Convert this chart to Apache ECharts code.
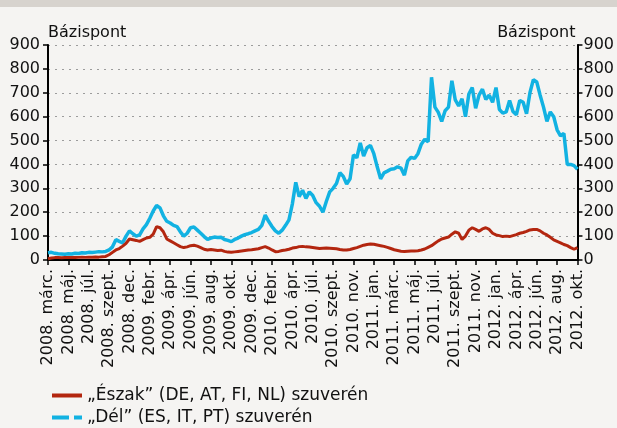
<!DOCTYPE html>
<html>
<head>
<meta charset="utf-8">
<script src="https://cdn.jsdelivr.net/npm/echarts@6/dist/echarts.min.js"></script>
<style>
html,body{margin:0;padding:0;background:#f5f4f2;}
#c{width:617px;height:428px;}
</style>
</head>
<body>
<div id="c"></div>
<script>
// Tick labels (every 6th data point)
var tickLabels = ['2008. márc.','2008. máj.','2008. júl.','2008. szept.','2008. dec.',
 '2009. febr.','2009. ápr.','2009. jún.','2009. aug.','2009. okt.','2009. dec.',
 '2010. febr.','2010. ápr.','2010. júl.','2010. szept.','2010. nov.',
 '2011. jan.','2011. márc.','2011. máj.','2011. júl.','2011. szept.','2011. nov.',
 '2012. jan.','2012. ápr.','2012. jún.','2012. aug.','2012. okt.'];
var pointsPerTick = 6;

// "Észak" (DE, AT, FI, NL) sovereign spread, basis points
var eszak = [
 5,8,10,10,9,10,
 10,11,10,11,12,11,
 12,12,13,12,14,15,
 22,32,42,48,58,70,
 88,85,82,78,85,92,
 95,108,140,135,118,88,
 80,72,64,56,52,55,
 60,62,58,52,45,42,
 44,42,40,41,36,33,
 32,34,36,38,40,42,
 43,45,47,52,56,50,
 42,35,36,40,42,45,
 50,52,56,57,55,54,
 52,50,48,49,50,49,
 48,47,44,42,42,44,
 48,52,57,62,65,67,
 66,63,60,57,53,48,
 43,40,37,36,37,38,
 38,39,42,46,53,60,
 70,80,88,92,96,108,
 118,112,86,100,125,135,
 128,120,130,135,128,112,
 105,102,98,100,98,102,
 106,112,115,120,126,128,
 128,122,112,105,95,84,
 78,72,65,60,52,45,
 52];

// "Dél" (ES, IT, PT) sovereign spread, basis points
var del = [
 30,32,28,26,25,24,
 26,25,28,27,30,29,
 32,31,33,35,34,36,
 42,55,85,78,72,100,
 122,110,100,105,130,148,
 175,205,228,218,185,162,
 155,145,140,118,100,112,
 135,138,125,112,98,86,
 92,96,94,95,86,82,
 77,86,92,100,106,110,
 115,122,128,145,188,162,
 140,122,112,125,145,168,
 235,325,265,292,258,285,
 270,240,225,200,245,285,
 300,320,365,350,318,340,
 440,428,490,435,470,480,
 445,390,340,365,372,380,
 382,390,385,355,415,430,
 425,445,485,505,495,765,
 640,618,580,625,640,750,
 670,645,675,600,695,722,
 635,690,715,672,690,660,
 722,630,615,620,668,622,
 608,668,660,612,700,755,
 745,690,640,580,620,600,
 545,520,530,400,400,395,
 380];

var categories = [];
for (var i = 0; i < del.length; i++) categories.push(String(i));

var FONT = 'DejaVu Sans';
var RED = '#b3260f', BLUE = '#12b2e2';
var chart = echarts.init(document.getElementById('c'), null, {renderer:'canvas'});
var axisBase = {
  type:'value', min:0, max:900, interval:100,
  axisLine:{show:true, lineStyle:{color:'#000', width:2}},
  axisTick:{show:true, length:5, lineStyle:{color:'#000', width:1.5}},
  nameGap:4
};
var nameRed = '„Észak” (DE, AT, FI, NL) szuverén';
var nameBlue = '„Dél” (ES, IT, PT) szuverén';
chart.setOption({
  backgroundColor:'#f5f4f2',
  animation:false,
  graphic:[{type:'rect', shape:{x:0,y:0,width:617,height:7}, style:{fill:'#d7d3ce'}, silent:true}],
  grid:{left:48, right:37, top:45, bottom:168, containLabel:false},
  legend:{
    orient:'vertical', left:52, top:387, padding:0, itemGap:5,
    itemWidth:30, itemHeight:16, symbolKeepAspect:true,
    textStyle:{fontFamily:FONT, fontSize:17, color:'#111', lineHeight:17},
    data:[
      {name:nameRed, icon:'path://M0 0H30V4H0Z', itemStyle:{color:RED}},
      {name:nameBlue, icon:'path://M0 0H17V4H0Z M22 0H30V4H22Z', itemStyle:{color:BLUE}}
    ]
  },
  xAxis:{
    type:'category', data:categories, boundaryGap:false,
    axisLine:{lineStyle:{color:'#000', width:2}},
    axisTick:{show:true, interval:pointsPerTick-1, length:5, lineStyle:{color:'#000', width:1.5}},
    axisLabel:{interval:pointsPerTick-1, rotate:90, margin:9,
      fontFamily:FONT, fontSize:16, color:'#111',
      formatter:function(v, idx){ return tickLabels[Math.round(idx/pointsPerTick)] || ''; }},
    splitLine:{show:false}
  },
  yAxis:[
    Object.assign({}, axisBase, {
      position:'left', name:'Bázispont',
      nameTextStyle:{fontFamily:FONT, fontSize:16, color:'#111', align:'left'},
      axisLabel:{fontFamily:FONT, fontSize:16, color:'#111', margin:8},
      splitLine:{show:true, lineStyle:{color:'#9c9c9c', width:1, type:[2,5]}}
    }),
    Object.assign({}, axisBase, {
      position:'right', name:'Bázispont',
      nameTextStyle:{fontFamily:FONT, fontSize:16, color:'#111', align:'right', padding:[0,2,0,0]},
      axisLabel:{fontFamily:FONT, fontSize:16, color:'#111', margin:6},
      splitLine:{show:false}
    })
  ],
  series:[
    {name:nameRed, type:'line', data:eszak, yAxisIndex:0,
     symbol:'none', lineStyle:{color:RED, width:3}, itemStyle:{color:RED}, z:3},
    {name:nameBlue, type:'line', data:del, yAxisIndex:0,
     symbol:'none', lineStyle:{color:BLUE, width:3.5}, itemStyle:{color:BLUE}, z:2}
  ]
});
</script>
</body>
</html>
